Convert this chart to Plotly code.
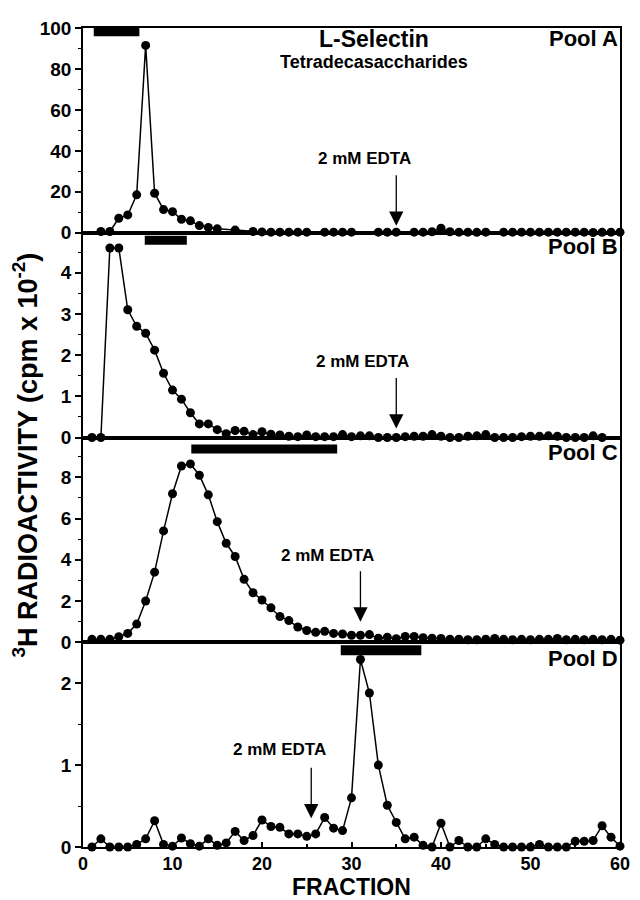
import plotly.graph_objects as go
from plotly.subplots import make_subplots

fractions = list(range(1, 61))

pool_a = [None, 0.6, 0.6, 7.1, 8.7, 18.5, 91.5, 19.3, 11.3, 10.3,
          6.6, 5.8, 3.5, 2.6, 1.9, None, 1.3, None, 0.6, 0.4,
          0.3, 0.3, 0.3, 0.3, 0.3, None, 0.3, 0.3, 0.3, 0.3,
          None, None, 0.3, 0.3, 0.3, None, 0.3, 0.3, 0.5, 2.2,
          0.5, 0.3, 0.3, 0.2, 0.3, None, 0.3, 0.3, 0.3, 0.3,
          0.3, 0.3, 0.3, 0.3, 0.3, 0.3, 0.1, 0.2, 0.3, 0.3]

pool_b = [0.0, 0.0, 4.6, 4.6, 3.1, 2.7, 2.53, 2.12, 1.56, 1.15,
          0.93, 0.6, 0.33, 0.33, 0.19, 0.09, 0.17, 0.15, 0.07, 0.14,
          0.08, 0.06, 0.03, 0.02, 0.06, 0.02, 0.02, 0.02, 0.07, 0.02,
          0.04, 0.04, 0.0, 0.0, 0.0, 0.02, 0.03, 0.03, 0.07, 0.03,
          0.0, 0.0, 0.03, 0.04, 0.07, 0.0, 0.0, 0.0, 0.02, 0.03,
          0.03, 0.04, 0.03, 0.0, 0.0, 0.0, 0.04, 0.0, -0.02, -0.02]

pool_c = [0.14, 0.14, 0.14, 0.27, 0.43, 0.88, 2.0, 3.4, 5.4, 7.2,
          8.55, 8.65, 8.1, 7.15, 5.85, 4.8, 4.16, 3.05, 2.4, 2.05,
          1.67, 1.25, 1.05, 0.74, 0.57, 0.48, 0.53, 0.43, 0.4, 0.34,
          0.34, 0.37, 0.2, 0.24, 0.17, 0.28, 0.28, 0.22, 0.2, 0.18,
          0.15, 0.15, 0.12, 0.12, 0.15, 0.18, 0.14, 0.12, 0.14, 0.12,
          0.14, 0.14, 0.18, 0.12, 0.14, 0.12, 0.14, 0.12, 0.14, 0.1]

pool_d = [0.0, 0.10, 0.0, 0.0, 0.0, 0.03, 0.10, 0.32, 0.03, 0.01,
          0.11, 0.04, 0.01, 0.10, 0.02, 0.05, 0.19, 0.08, 0.14, 0.33,
          0.25, 0.24, 0.16, 0.16, 0.13, 0.16, 0.36, 0.23, 0.20, 0.60,
          2.29, 1.88, 1.0, 0.51, 0.30, 0.10, 0.12, 0.02, 0.0, 0.29,
          0.0, 0.08, 0.0, 0.0, 0.10, 0.03, 0.0, 0.0, 0.0, 0.0,
          0.03, 0.0, 0.0, 0.0, 0.07, 0.07, 0.08, 0.26, 0.12, 0.01]

series = [pool_a, pool_b, pool_c, pool_d]
pool_names = ["Pool A", "Pool B", "Pool C", "Pool D"]
y_ranges = [[0, 100], [0, 4.97], [0, 9.93], [0, 2.5]]
y_major = [20, 1, 2, 1]
y_minor = [10, 0.5, 1, 0.5]
pool_start = [1.2, 6.9, 12.1, 28.8]
pool_end = [6.3, 11.6, 28.4, 37.8]
edta_fraction = [35.0, 35.0, 31.0, 25.5]
edta_tip = [3.4, 0.22, 1.0, 0.35]

FONT = "Liberation Sans, Arial, sans-serif"

fig = make_subplots(rows=4, cols=1, shared_xaxes=True, vertical_spacing=0)

for i, vals in enumerate(series):
    fig.add_trace(go.Scatter(
        x=fractions, y=vals, mode="lines+markers", connectgaps=True,
        line=dict(color="black", width=1.5),
        marker=dict(color="black", size=9, symbol="circle"),
        cliponaxis=False, showlegend=False), row=i + 1, col=1)

for i in range(4):
    r = i + 1
    fig.update_yaxes(row=r, col=1, range=y_ranges[i], dtick=y_major[i], tick0=0,
                     ticks="outside", ticklen=6, tickwidth=1.5, tickcolor="black",
                     minor=dict(dtick=y_minor[i], ticks="outside", ticklen=3, tickcolor="black", tickwidth=1),
                     showline=True, linecolor="black", linewidth=1.5, mirror=True,
                     showgrid=False, zeroline=False,
                     tickfont=dict(family=FONT, size=19, color="black", weight="bold"))
    fig.update_xaxes(row=r, col=1, range=[0, 60], showline=True, linecolor="black",
                     linewidth=1.5, mirror=True, showgrid=False, zeroline=False,
                     ticks="", showticklabels=False)

fig.update_xaxes(row=4, col=1, dtick=10, tick0=0, ticks="inside", ticklen=5,
                 tickwidth=1.5, tickcolor="black", showticklabels=True,
                 minor=dict(dtick=5, ticks="inside", ticklen=3, tickcolor="black"),
                 tickfont=dict(family=FONT, size=18, color="black", weight="bold"))

shapes = []
annotations = []
bar_bounds = [(0.96, 1.0), (0.942, 0.985), (0.922, 0.966), (0.937, 0.985)]
label_y = [0.948, 0.935, 0.928, 0.92]
edta_text_pos = [(31.4, 36.5), (31.2, 1.85), (27.3, 4.2), (22.0, 1.19)]
for i in range(4):
    ax_suffix = "" if i == 0 else str(i + 1)
    xr = "x" + ax_suffix
    yr = "y" + ax_suffix
    b0, b1 = bar_bounds[i]
    shapes.append(dict(type="rect", xref=xr, yref=yr + " domain",
                       x0=pool_start[i], x1=pool_end[i], y0=b0, y1=b1,
                       fillcolor="black", line=dict(width=0)))
    annotations.append(dict(xref=xr + " domain", yref=yr + " domain", x=1.0, y=label_y[i],
                            text="<b>" + pool_names[i] + "</b>", showarrow=False,
                            xanchor="right", yanchor="middle",
                            font=dict(family=FONT, size=22, color="black")))
    tx, ty = edta_text_pos[i]
    annotations.append(dict(xref=xr, yref=yr, x=tx, y=ty, text="<b>2 mM EDTA</b>",
                            showarrow=False, xanchor="center", yanchor="middle",
                            font=dict(family=FONT, size=17, color="black")))
    annotations.append(dict(xref=xr, yref=yr, x=edta_fraction[i], y=edta_tip[i], text="",
                            showarrow=True, arrowhead=2, arrowsize=2.2, arrowwidth=1.3,
                            arrowcolor="black", ax=0, ay=-52))

annotations.append(dict(xref="x", yref="y", x=32.5, y=94.5, text="<b>L-Selectin</b>",
                        showarrow=False, xanchor="center", yanchor="middle",
                        font=dict(family=FONT, size=23, color="black")))
annotations.append(dict(xref="x", yref="y", x=32.5, y=83.5, text="<b>Tetradecasaccharides</b>",
                        showarrow=False, xanchor="center", yanchor="middle",
                        font=dict(family=FONT, size=18, color="black")))
annotations.append(dict(xref="paper", yref="paper", x=-0.108, y=0.478,
                        text="<b><sup>3</sup>H RADIOACTIVITY (cpm x 10<sup>-2</sup>)</b>",
                        textangle=-90, showarrow=False, xanchor="center", yanchor="middle",
                        font=dict(family=FONT, size=27, color="black")))
annotations.append(dict(xref="paper", yref="paper", x=0.5, y=-0.0485,
                        text="<b>FRACTION</b>", showarrow=False,
                        xanchor="center", yanchor="middle",
                        font=dict(family=FONT, size=23, color="black")))

# the page body adds an 8px offset; compensate so the plot lands where the reference has it
fig.update_layout(width=632, height=892, margin=dict(l=75, r=10, t=14, b=53),
                  paper_bgcolor="white", plot_bgcolor="white",
                  shapes=shapes, annotations=annotations, showlegend=False)

fig.write_html("out.html")
